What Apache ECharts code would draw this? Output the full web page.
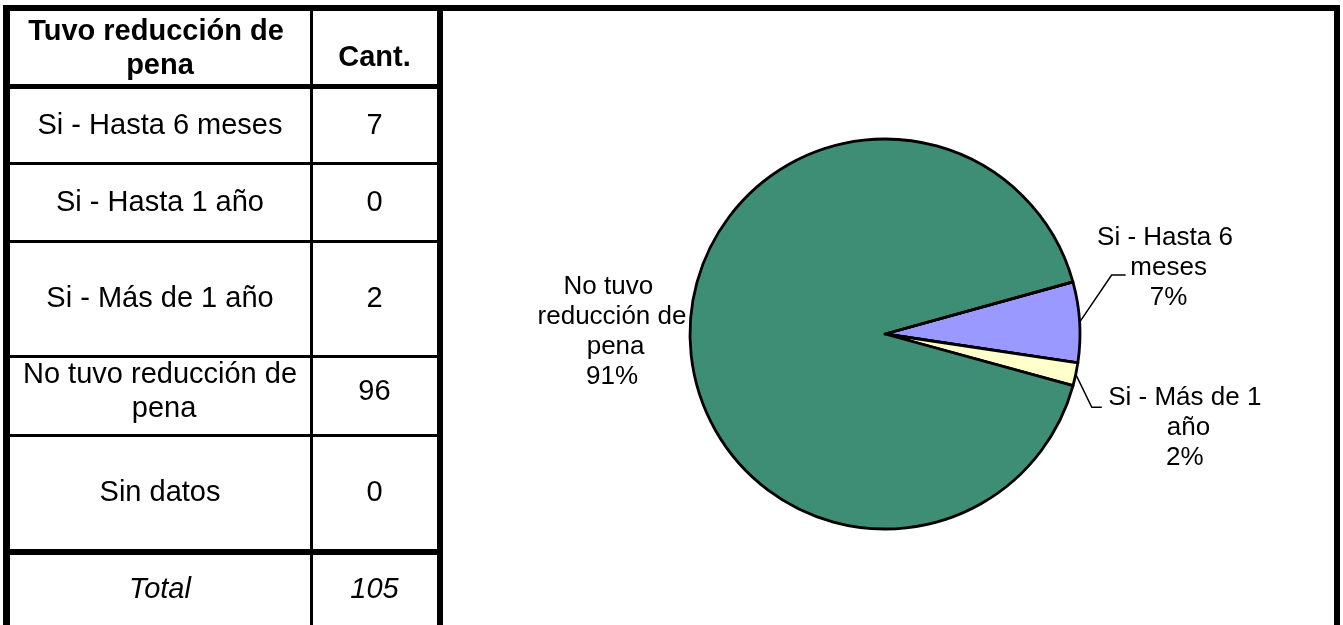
<!DOCTYPE html>
<html>
<head>
<meta charset="utf-8">
<script src="https://cdn.jsdelivr.net/npm/echarts@6/dist/echarts.min.js"></script>
<style>
  html, body { margin: 0; padding: 0; background: #ffffff; }
  #chart { width: 1343px; height: 625px; }
</style>
</head>
<body>
<div id="chart"></div>
<script>
// ---- data ----
const categories = ['Si - Hasta 6 meses', 'Si - Hasta 1 año', 'Si - Más de 1 año', 'No tuvo reducción de pena', 'Sin datos'];
const counts = [7, 0, 2, 96, 0];
const headerLabels = ['Tuvo reducción de pena', 'Cant.'];
const totalLabel = 'Total';
const sliceColors = ['#9999FF', '#993366', '#FFFFCC', '#3E8E76', '#CCFFFF'];

const total = counts.reduce((a, b) => a + b, 0);

// ---- layout ----
const FONT = '"Liberation Sans", Arial, Helvetica, sans-serif';
const COL1_X = 160, COL2_X = 374.5, COL1_W = 340;
const HEADER_Y = 49, CANT_Y = 58;
const ROW_Y = [125.5, 203, 299, 392, 493];
const TOTAL_Y = 590;

// black rules of the table and of the outer frame: [x, y, w, h]
const RULES = [
  [3, 5, 1337, 6],     // top frame
  [3, 5, 7, 620],      // left frame
  [437, 5, 6, 620],    // table / chart separator
  [1334, 5, 6, 620],   // right frame
  [310, 11, 3, 614],   // column divider
  [10, 84, 427, 5],    // under header
  [10, 162, 427, 3],
  [10, 240, 427, 3],
  [10, 355, 427, 3],
  [10, 434, 427, 3],
  [10, 549, 427, 6]    // above total
];

function cell(text, x, y, weight, fontStyle, width) {
  return {
    type: 'text', x: x, y: y, silent: true,
    style: {
      text: text,
      fontFamily: FONT, fontSize: 29, fontWeight: weight, fontStyle: fontStyle,
      fill: '#000',
      align: 'center', verticalAlign: 'middle',
      textAlign: 'center', textVerticalAlign: 'middle',
      width: width, overflow: 'break', lineHeight: 34
    }
  };
}

const graphics = [];
RULES.forEach(r => graphics.push({
  type: 'rect', silent: true, z: 10,
  shape: { x: r[0], y: r[1], width: r[2], height: r[3] },
  style: { fill: '#000' }
}));
graphics.push(cell(headerLabels[0], COL1_X, HEADER_Y, 'bold', 'normal', COL1_W));
graphics.push(cell(headerLabels[1], COL2_X, CANT_Y, 'bold', 'normal', 120));
categories.forEach((c, i) => {
  graphics.push(cell(c, COL1_X, ROW_Y[i], 'normal', 'normal', COL1_W));
  graphics.push(cell(String(counts[i]), COL2_X, ROW_Y[i], 'normal', 'normal', 120));
});
graphics.push(cell(totalLabel, COL1_X, TOTAL_Y, 'normal', 'italic', COL1_W));
graphics.push(cell(String(total), COL2_X, TOTAL_Y, 'normal', 'italic', 120));

// label placement relative to the point where the slice meets the rim
// elbow / end: leader line bends; text: centre of the label block
const LABEL_PLACE = {
  'Si - Hasta 6 meses': { elbow: [32, -47], end: [46, -47], text: [89, -54] },
  'Si - Más de 1 año': { elbow: [16, 33], end: [26, 33], text: [109, 54] },
  'No tuvo reducción de pena': { text: [-78, -2] }
};

const chart = echarts.init(document.getElementById('chart'), null, { renderer: 'canvas' });

chart.setOption({
  backgroundColor: '#ffffff',
  animation: false,
  graphic: { elements: graphics },
  series: [{
    type: 'pie',
    center: [885, 334],
    radius: 195,
    startAngle: 15.5,
    clockwise: true,
    avoidLabelOverlap: false,
    minShowLabelAngle: 0.5,
    emphasis: { disabled: true },
    itemStyle: { borderColor: '#000000', borderWidth: 2.8 },
    label: {
      show: true,
      position: 'outside',
      color: '#000000',
      fontFamily: FONT,
      fontSize: 26,
      lineHeight: 30,
      width: 165,
      overflow: 'break',
      formatter: p => p.name + '\n' + Math.round(p.percent) + '%'
    },
    labelLine: {
      show: true, length: 10, length2: 10, smooth: false,
      lineStyle: { color: '#000000', width: 1.5 }
    },
    labelLayout: function (params) {
      const pts = params.labelLinePoints;
      const place = LABEL_PLACE[categories[params.dataIndex]];
      if (!pts || !place) return {};
      const p0 = pts[0];
      const out = {
        x: p0[0] + place.text[0],
        y: p0[1] + place.text[1],
        align: 'center',
        verticalAlign: 'middle'
      };
      if (place.elbow) {
        out.labelLinePoints = [
          [p0[0], p0[1]],
          [p0[0] + place.elbow[0], p0[1] + place.elbow[1]],
          [p0[0] + place.end[0], p0[1] + place.end[1]]
        ];
      } else {
        out.labelLinePoints = [[p0[0], p0[1]], [p0[0], p0[1]], [p0[0], p0[1]]];
      }
      return out;
    },
    data: categories.map((name, i) => ({
      name: name,
      value: counts[i],
      itemStyle: { color: sliceColors[i] },
      labelLine: LABEL_PLACE[name] && !LABEL_PLACE[name].elbow
        ? { lineStyle: { opacity: 0 } } : undefined
    }))
  }]
});
</script>
</body>
</html>
